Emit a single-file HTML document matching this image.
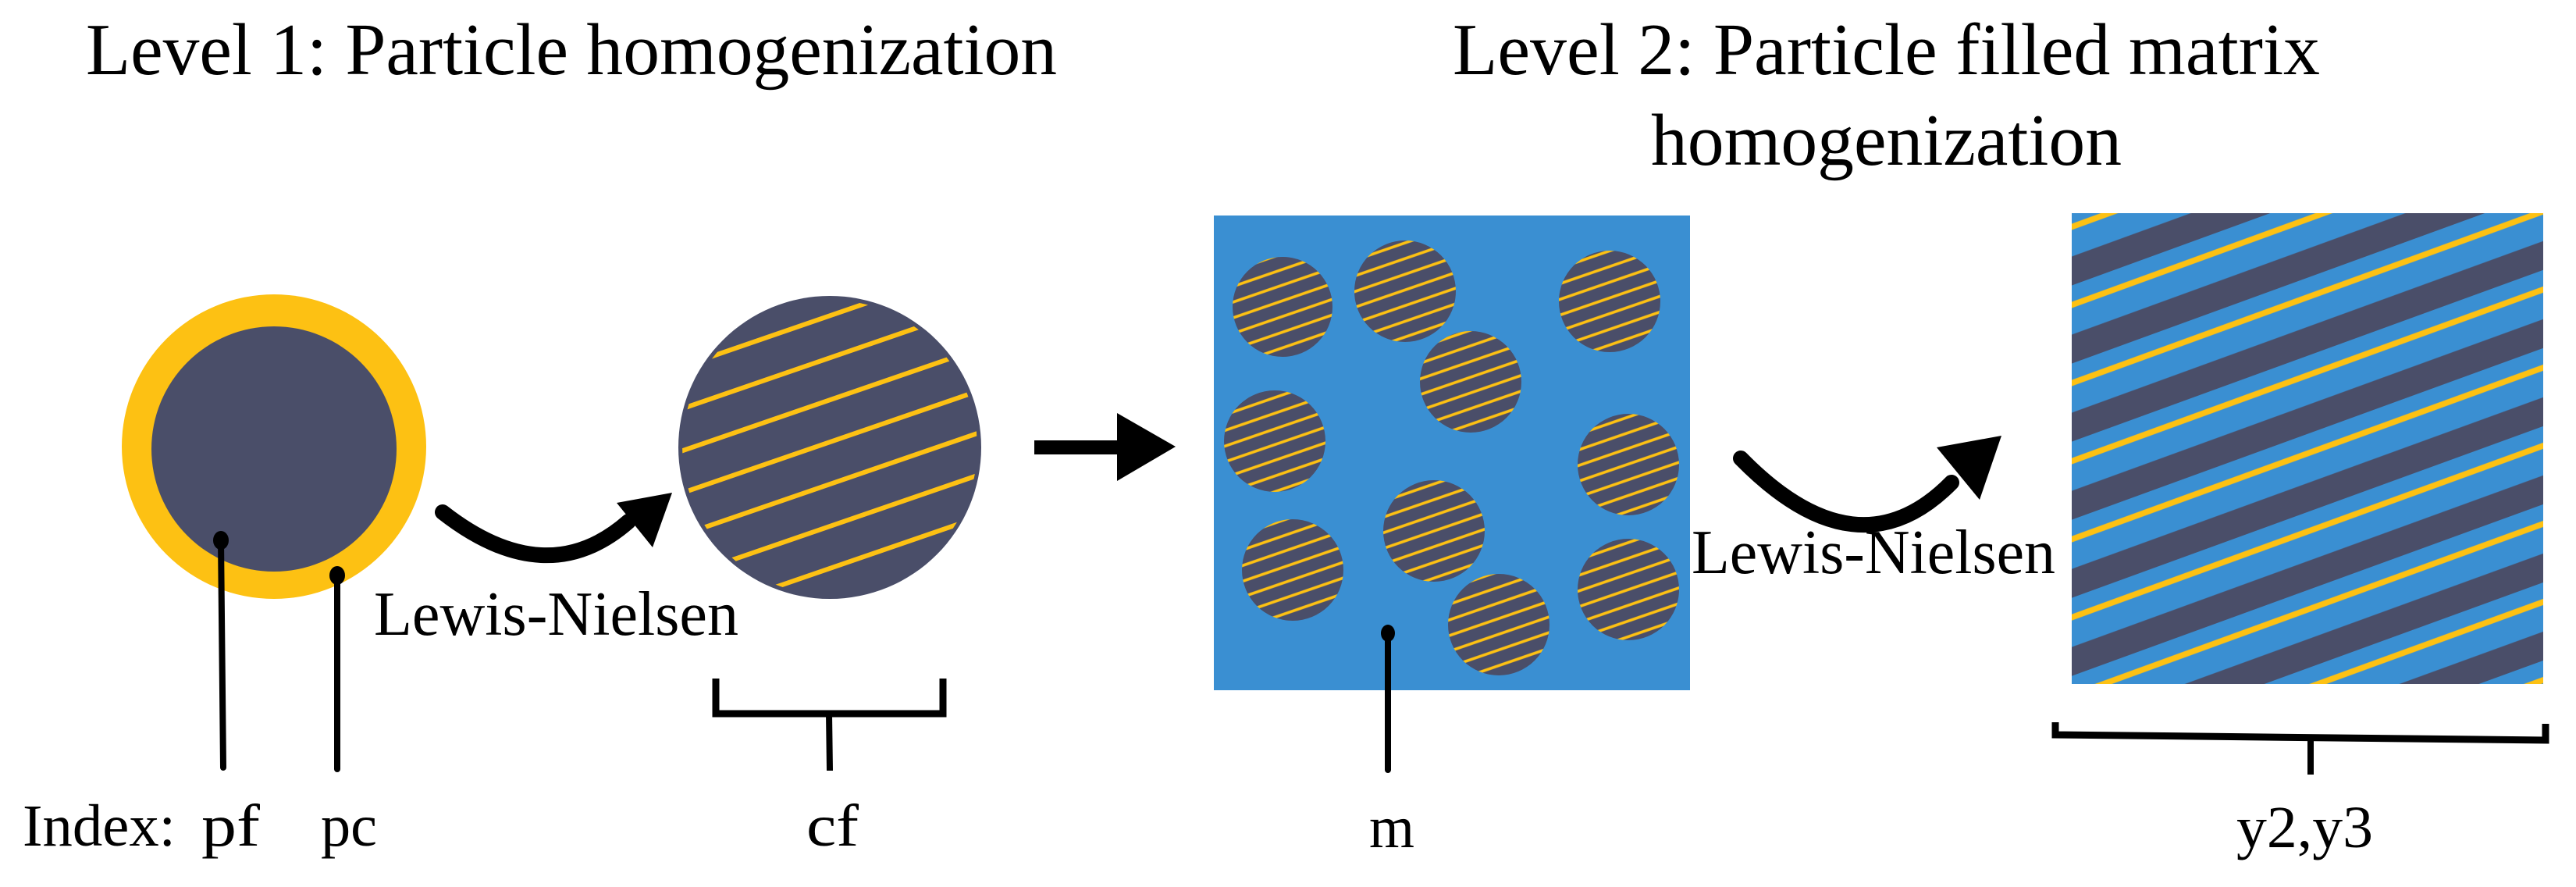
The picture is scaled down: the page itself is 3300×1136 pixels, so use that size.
<!DOCTYPE html>
<html><head><meta charset="utf-8"><style>html,body{margin:0;padding:0;background:#fff}svg{display:block}</style></head>
<body>
<svg width="3300" height="1136" viewBox="0 0 3300 1136" xmlns="http://www.w3.org/2000/svg" font-family="'Liberation Serif', serif">
<defs>
<pattern id="big" patternUnits="userSpaceOnUse" width="400" height="51" patternTransform="translate(878,522) rotate(-19)">
<rect width="400" height="51" fill="#4A4E69"/><rect y="0" width="400" height="3" fill="#FDC113"/><rect y="48" width="400" height="3" fill="#FDC113"/>
</pattern>
<pattern id="small" patternUnits="userSpaceOnUse" width="400" height="19" patternTransform="translate(1600,400) rotate(-19)">
<rect width="400" height="19" fill="#4A4E69"/><rect y="0" width="400" height="1.8" fill="#FDC113"/><rect y="17.2" width="400" height="1.8" fill="#FDC113"/>
</pattern>
<pattern id="sq" patternUnits="userSpaceOnUse" width="400" height="94" patternTransform="translate(2650,292) rotate(-20)">
<rect width="400" height="94" fill="#3A8FD2"/>
<rect y="0" width="400" height="3.75" fill="#FDC113"/><rect y="90.25" width="400" height="3.75" fill="#FDC113"/>
<rect y="35.7" width="400" height="34.8" fill="#4A4E69"/>
</pattern>
<clipPath id="bc"><circle cx="1063" cy="573" r="189"/></clipPath>
</defs>

<text x="110" y="95" font-size="94" textLength="1244" lengthAdjust="spacingAndGlyphs">Level 1: Particle homogenization</text>
<text x="1861" y="95" font-size="94" textLength="1111" lengthAdjust="spacingAndGlyphs">Level 2: Particle filled matrix</text>
<text x="2115" y="211" font-size="94" textLength="603" lengthAdjust="spacingAndGlyphs">homogenization</text>

<!-- particle -->
<circle cx="351" cy="572" r="195" fill="#FDC113"/>
<circle cx="351" cy="575" r="157" fill="#4A4E69"/>
<line x1="283" y1="692" x2="286" y2="983" stroke="#000" stroke-width="8" stroke-linecap="round"/>
<ellipse cx="283" cy="692" rx="10" ry="12" fill="#000"/>
<line x1="432" y1="732" x2="432" y2="985" stroke="#000" stroke-width="8" stroke-linecap="round"/>
<ellipse cx="432" cy="737" rx="10" ry="12" fill="#000"/>

<!-- arrow 1 -->
<path d="M567,656 Q700,760 805,668" fill="none" stroke="#000" stroke-width="20" stroke-linecap="round"/>
<polygon points="861,631 790,644 836,701" fill="#000"/>
<text x="479" y="813" font-size="80" textLength="467" lengthAdjust="spacingAndGlyphs">Lewis-Nielsen</text>

<!-- hatched circle -->
<circle cx="1063" cy="573" r="194" fill="#4A4E69"/>
<circle cx="1063" cy="573" r="189" fill="url(#big)" clip-path="url(#bc)"/>
<path d="M917,869 V914 H1208 V869" fill="none" stroke="#000" stroke-width="9"/>
<line x1="1062" y1="914" x2="1063" y2="987" stroke="#000" stroke-width="8"/>

<!-- straight arrow -->
<rect x="1325" y="564" width="108" height="18" fill="#000"/>
<polygon points="1431,529 1506,572 1431,616" fill="#000"/>

<!-- matrix square -->
<rect x="1555" y="276" width="610" height="608" fill="#3A8FD2"/>
<g fill="url(#small)">
<circle cx="1643" cy="393" r="64"/>
<circle cx="1800" cy="373" r="65"/>
<circle cx="2062" cy="386" r="65"/>
<circle cx="1884" cy="489" r="65"/>
<circle cx="1633" cy="565" r="65"/>
<circle cx="2086" cy="595" r="65"/>
<circle cx="1837" cy="680" r="65"/>
<circle cx="1656" cy="730" r="65"/>
<circle cx="2086" cy="755" r="65"/>
<circle cx="1920" cy="800" r="65"/>
</g>
<line x1="1778" y1="811" x2="1778" y2="986" stroke="#000" stroke-width="8" stroke-linecap="round"/>
<ellipse cx="1778" cy="811" rx="9" ry="11" fill="#000"/>

<!-- arrow 2 -->
<path d="M2230,587 Q2380,740 2500,618" fill="none" stroke="#000" stroke-width="20" stroke-linecap="round"/>
<polygon points="2564,558 2481,573 2536,640" fill="#000"/>
<text x="2167" y="734" font-size="80" textLength="466" lengthAdjust="spacingAndGlyphs">Lewis-Nielsen</text>

<!-- homogenized square -->
<rect x="2654" y="273" width="604" height="603" fill="url(#sq)"/>
<path d="M2633,925 V941 L3261,948 V927" fill="none" stroke="#000" stroke-width="9"/>
<line x1="2960" y1="945" x2="2960" y2="992" stroke="#000" stroke-width="8"/>

<!-- index labels -->
<g font-size="76">
<text x="29" y="1083" textLength="196" lengthAdjust="spacingAndGlyphs">Index:</text>
<text x="258" y="1083" textLength="75" lengthAdjust="spacingAndGlyphs">pf</text>
<text x="411" y="1083" textLength="72" lengthAdjust="spacingAndGlyphs">pc</text>
<text x="1033" y="1083" textLength="67" lengthAdjust="spacingAndGlyphs">cf</text>
<text x="1754" y="1085" textLength="58" lengthAdjust="spacingAndGlyphs">m</text>
<text x="2865" y="1085" textLength="175" lengthAdjust="spacingAndGlyphs">y2,y3</text>
</g>
</svg>
</body></html>
